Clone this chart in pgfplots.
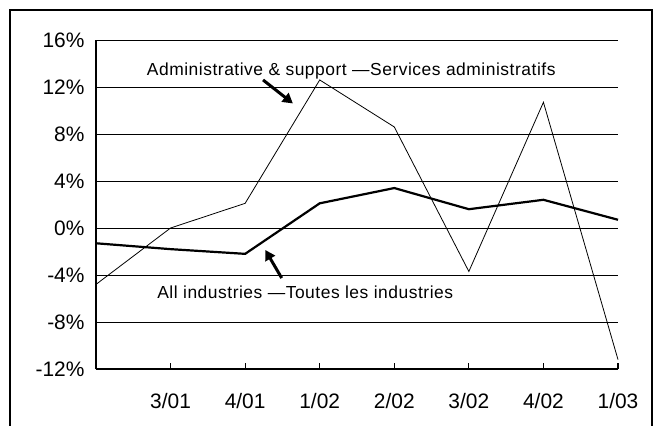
\documentclass[border=0pt]{standalone}
\usepackage{pgfplots}
\pgfplotsset{compat=1.18}
\usepackage{fontspec}
\setmainfont{Liberation Sans}
\usetikzlibrary{arrows.meta}
\begin{document}
\begin{tikzpicture}
\useasboundingbox (-96bp,-57bp) rectangle (566bp,369bp);
\begin{axis}[name=ax, at={(0,0)}, anchor=south west,
  scale only axis, width=522bp, height=329bp,
  xmin=0, xmax=7, ymin=-12, ymax=16,
  axis x line=bottom, axis y line=left,
  axis line style={line width=1.6bp,-},
  xtick={1,...,7}, xticklabels={3/01,4/01,1/02,2/02,3/02,4/02,1/03},
  ytick={-12,-8,-4,0,4,8,12,16},
  yticklabels={-12\%,-8\%,-4\%,0\%,4\%,8\%,12\%,16\%},
  ymajorgrids, grid style={black, line width=0.8bp},
  tick align=inside, major tick length=6bp,
  xtick style={black, line width=1.2bp}, ytick style={draw=none},
  ticklabel style={font=\fontsize{21}{25}\selectfont},
  x tick label style={yshift=-21bp},
  y tick label style={xshift=-8bp},
  clip=false]
\addplot[black, line width=0.8bp, sharp plot, no marks] coordinates {
 (0,-4.8) (1,0.0) (2,2.1) (3,12.6) (4,8.6) (5,-3.7) (6,10.7) (7,-11.2)};
\addplot[black, line width=2.2bp, sharp plot, no marks] coordinates {
 (0,-1.3) (1,-1.8) (2,-2.2) (3,2.1) (4,3.4) (5,1.6) (6,2.4) (7,0.7)};
\node[anchor=base west, inner sep=0pt, font=\fontsize{17.5}{21}\selectfont\addfontfeatures{LetterSpace=3}] at (axis cs:0.68,13.0) {Administrative \& support \textemdash Services administratifs};
\node[anchor=base west, inner sep=0pt, font=\fontsize{17.5}{21}\selectfont\addfontfeatures{LetterSpace=3}] at (axis cs:0.82,-5.96) {All industries \textemdash Toutes les industries};
\draw[line width=3bp, -{Triangle[length=10bp,width=11bp]}] (axis cs:2.24,12.6) -- (axis cs:2.64,10.6);
\draw[line width=3bp, -{Triangle[length=10bp,width=11bp]}] (axis cs:2.49,-4.26) -- (axis cs:2.27,-1.87);
\end{axis}
\draw[line width=2bp] (-86bp,-80bp) rectangle (556bp,359bp);
\end{tikzpicture}
\end{document}
